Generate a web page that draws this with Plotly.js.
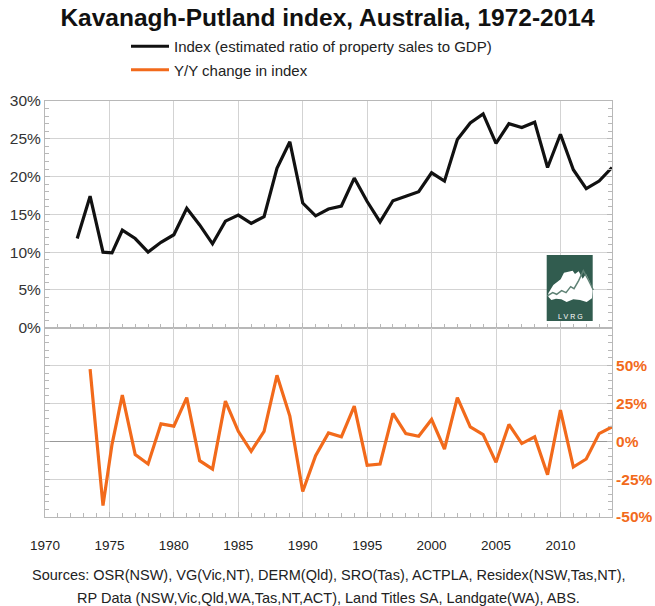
<!DOCTYPE html>
<html>
<head>
<meta charset="utf-8">
<script src="https://cdn.plot.ly/plotly-3.0.1.min.js"></script>
<style>html,body{margin:0;padding:0;background:#fff;}#chart{width:655px;height:606px;}</style>
</head>
<body>
<div id="chart"></div>
<script>
// ---- data ----
var indexYears = [1972.5,1973.5,1974.5,1975.2,1976,1977,1978,1979,1980,1981,1982,1983,1984,1985,1986,1987,1988,1989,1990,1991,1992,1993,1994,1995,1996,1997,1998,1999,2000,2001,2002,2003,2004,2005,2006,2007,2008,2009,2010,2011,2012,2013,2014];
var indexValues = [11.8,17.4,10.0,9.9,12.9,11.8,10.0,11.3,12.3,15.8,13.6,11.1,14.1,14.9,13.8,14.7,21.1,24.6,16.5,14.8,15.7,16.1,19.8,16.7,14.0,16.8,17.4,18.0,20.5,19.4,24.9,27.1,28.3,24.4,27.0,26.5,27.2,21.2,25.6,20.9,18.4,19.4,21.2];
var changeYears = [1973.5,1974.5,1975.2,1976,1977,1978,1979,1980,1981,1982,1983,1984,1985,1986,1987,1988,1989,1990,1991,1992,1993,1994,1995,1996,1997,1998,1999,2000,2001,2002,2003,2004,2005,2006,2007,2008,2009,2010,2011,2012,2013,2014];
var changeValues = [47.6,-42.5,-2.0,30.5,-8.8,-15.0,11.5,10.0,28.8,-12.8,-18.4,26.5,6.6,-6.6,6.6,43.6,16.6,-33.2,-9.5,5.5,2.9,23.2,-15.9,-15.0,18.4,5.1,3.3,14.4,-5.1,28.8,9.5,4.4,-13.9,11.1,-1.5,2.9,-22.1,20.6,-17.0,-11.7,5.1,9.5];
var topTickVals = [0,5,10,15,20,25,30];
var topTickText = ["0%","5%","10%","15%","20%","25%","30%"];
var botTickVals = [-50,-25,0,25,50];
var botTickText = ["-50%","-25%","0%","25%","50%"];
var xTickVals = [1970,1975,1980,1985,1990,1995,2000,2005,2010];
var titleText = "Kavanagh-Putland index, Australia, 1972-2014";
var seriesNames = ["Index (estimated ratio of property sales to GDP)", "Y/Y change in index"];
var sourceLines = ["Sources: OSR(NSW), VG(Vic,NT), DERM(Qld), SRO(Tas), ACTPLA, Residex(NSW,Tas,NT),",
                   "RP Data (NSW,Vic,Qld,WA,Tas,NT,ACT), Land Titles SA, Landgate(WA), ABS."];

var BLACK = "#111111", ORANGE = "#f26a1b", GRID = "#d3d3d3", AXL = "#b8b8b8";
var FONT = "Liberation Sans, Arial, sans-serif";

// ---- logo (decoration) in pixel coords -> paper ----
var W = 655, H = 606, mL = 45, mR = 43, mT = 101, mB = 89;
var pw = W - mL - mR, ph = H - mT - mB;
function px(x){ return (x - mL) / pw; }
function py(y){ return (H - mB - y) / ph; }
function pathFrom(pts, close){
  var s = pts.map(function(p,i){ return (i ? "L" : "M") + px(p[0]).toFixed(4) + "," + py(p[1]).toFixed(4); }).join(" ");
  return close ? s + " Z" : s;
}
function z7(zx, zy){ return [530 + zx/3, 240 + zy/3]; }
var ausPts = [[55,160],[70,135],[92,118],[102,98],[128,92],[135,102],[146,94],[158,116],[168,102],[178,122],[188,150],[186,175],[170,186],[150,180],[130,178],[110,186],[94,178],[78,176],[64,180],[55,170]].map(function(p){return z7(p[0],p[1]);});
var linePts = [[52,168],[68,158],[80,163],[95,152],[108,158],[122,140],[132,146],[146,122],[160,92],[175,120],[190,150]].map(function(p){return z7(p[0],p[1]);});

var traces = [
  {x: indexYears, y: indexValues, type: "scatter", mode: "lines", name: seriesNames[0],
   line: {color: BLACK, width: 3.2}, xaxis: "x", yaxis: "y", legendgroup: "a"},
  {x: changeYears, y: changeValues, type: "scatter", mode: "lines", name: seriesNames[1],
   line: {color: ORANGE, width: 3.2}, xaxis: "x2", yaxis: "y2", legendgroup: "b"}
];

var split = 189.3 / ph;

var layout = {
  width: W, height: H,
  margin: {l: mL, r: mR, t: mT, b: mB, pad: 0},
  paper_bgcolor: "#fff", plot_bgcolor: "#fff",
  font: {family: FONT, color: "#333"},
  title: {text: "<b>" + titleText + "</b>", font: {family: FONT, size: 24.5, color: "#111"},
          x: 0.5, xanchor: "center", y: 0.972, yanchor: "middle"},
  showlegend: true,
  legend: {x: px(126), y: py(30), xanchor: "left", yanchor: "top", bgcolor: "rgba(0,0,0,0)",
           font: {family: "Liberation Sans Narrow, Liberation Sans, sans-serif", size: 15, color: "#222"},
           tracegroupgap: 1, traceorder: "grouped", itemwidth: 38},
  xaxis: {domain: [0,1], anchor: "y", range: [1970, 2014], tickvals: xTickVals, showticklabels: false,
          showgrid: true, gridcolor: GRID, gridwidth: 1, showline: true, linecolor: AXL, mirror: true,
          ticks: "inside", ticklen: 5, tickcolor: AXL, zeroline: false,
          minor: {dtick: 1, tick0: 1970, ticks: "inside", ticklen: 4, tickcolor: AXL, showgrid: false}},
  yaxis: {domain: [split, 1], anchor: "x", range: [0, 30], tickvals: topTickVals, ticktext: topTickText,
          showgrid: true, gridcolor: GRID, showline: true, linecolor: AXL, mirror: "allticks",
          ticks: "inside", ticklen: 5, tickcolor: AXL, zeroline: false,
          tickfont: {family: FONT, size: 15.5, color: "#333"},
          minor: {dtick: 1, tick0: 0, ticks: "inside", ticklen: 4, tickcolor: AXL, showgrid: false}},
  xaxis2: {domain: [0,1], anchor: "y2", matches: "x", range: [1970, 2014], tickvals: xTickVals,
           showgrid: true, gridcolor: GRID, showline: true, linecolor: AXL, mirror: true,
           ticks: "inside", ticklen: 5, tickcolor: AXL, zeroline: false, ticklabelstandoff: 16,
           tickfont: {family: FONT, size: 13.5, color: "#222"},
           minor: {dtick: 1, tick0: 1970, ticks: "inside", ticklen: 4, tickcolor: AXL, showgrid: false}},
  yaxis2: {domain: [0, split], anchor: "x2", range: [-50, 75], side: "right",
           tickvals: botTickVals, ticktext: botTickText,
           showgrid: true, gridcolor: GRID, showline: true, linecolor: AXL, mirror: "allticks",
           ticks: "inside", ticklen: 5, tickcolor: AXL,
           zeroline: true, zerolinecolor: "#999", zerolinewidth: 1.2,
           tickfont: {family: FONT, size: 15.5, color: ORANGE, weight: "bold"},
           minor: {dtick: 5, tick0: 0, ticks: "inside", ticklen: 4, tickcolor: AXL, showgrid: false}},
  shapes: [
    {type: "rect", xref: "paper", yref: "paper", x0: px(546.7), x1: px(592.7), y0: py(321), y1: py(255),
     fillcolor: "#315c4f", line: {width: 0}, layer: "above"},
    {type: "path", xref: "paper", yref: "paper", path: pathFrom(ausPts, true),
     fillcolor: "#ffffff", line: {width: 0}, layer: "above"},
    {type: "path", xref: "paper", yref: "paper", path: pathFrom(linePts, false),
     line: {color: "#5f8275", width: 1.5}, layer: "above"}
  ],
  annotations: [
    {text: "L V R G", xref: "paper", yref: "paper", x: px(570), y: py(316), showarrow: false,
     font: {family: FONT, size: 7, color: "#ffffff"}, xanchor: "center", yanchor: "middle"},
    {text: sourceLines[0], xref: "paper", yref: "paper", x: 0.5, y: py(575), xanchor: "center", yanchor: "middle",
     showarrow: false, font: {family: FONT, size: 14.5, color: "#222"}},
    {text: sourceLines[1], xref: "paper", yref: "paper", x: 0.5, y: py(598), xanchor: "center", yanchor: "middle",
     showarrow: false, font: {family: FONT, size: 14.5, color: "#222"}}
  ]
};

Plotly.newPlot("chart", traces, layout, {displayModeBar: false, staticPlot: true});
</script>
</body>
</html>
